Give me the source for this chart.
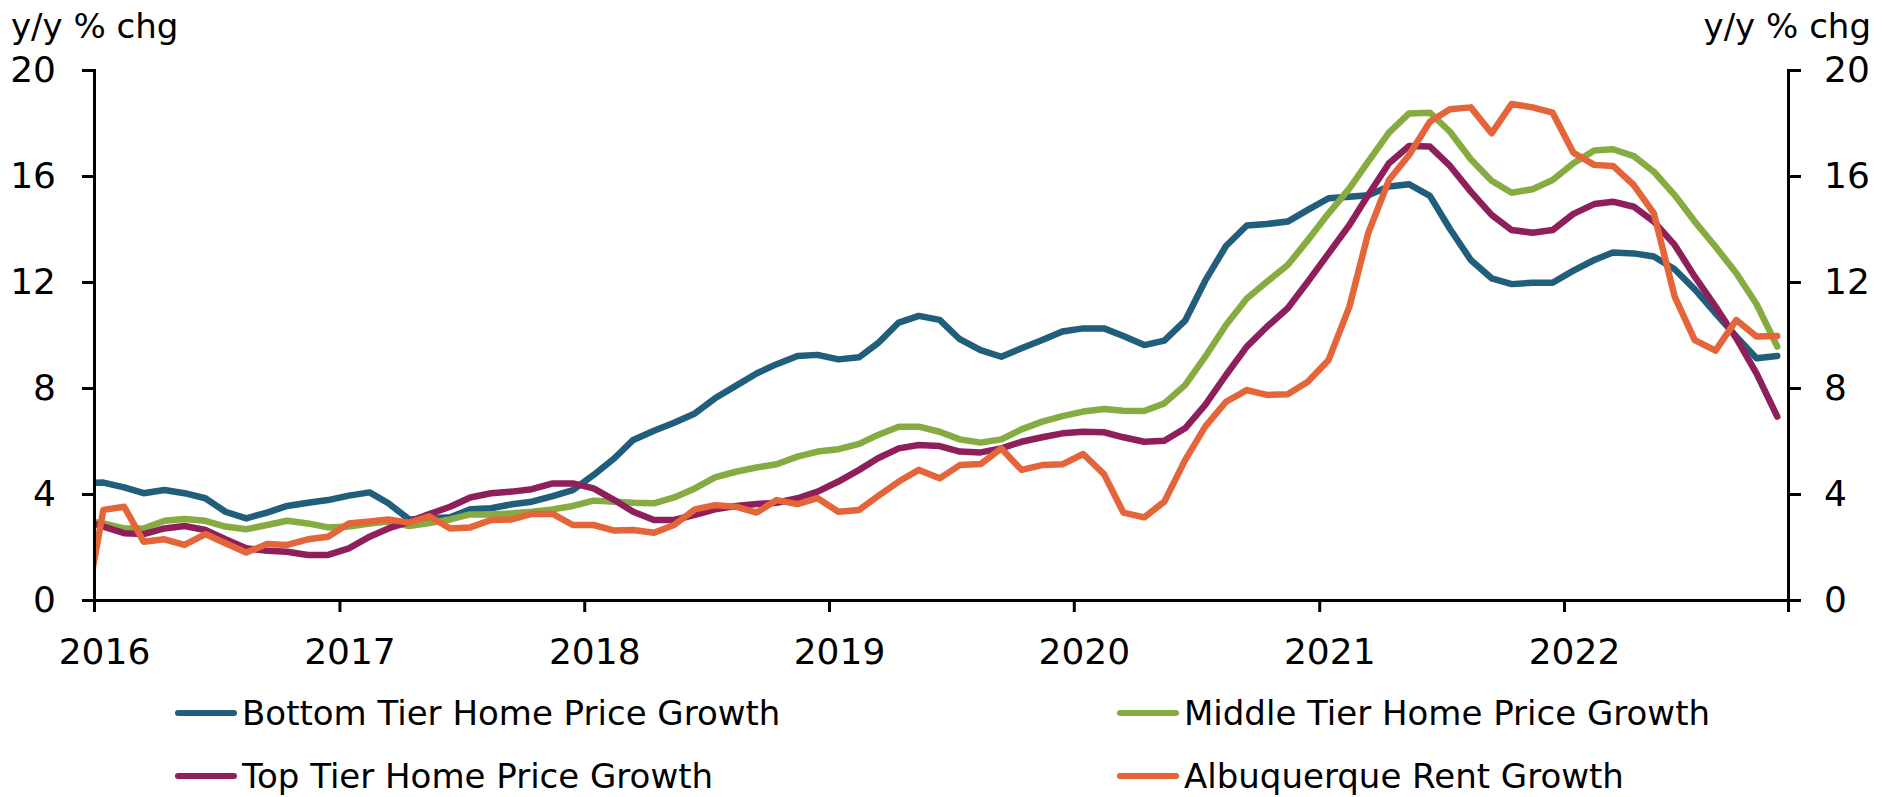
<!DOCTYPE html>
<html>
<head>
<meta charset="utf-8">
<script src="https://cdn.jsdelivr.net/npm/d3@7"></script>
<style>
  body { margin: 0; background: #fff; }
  text { font-family: "DejaVu Sans", sans-serif; fill: #000; }
</style>
</head>
<body>
<div class="chart"></div>
<script>
// monthly y/y % change, Dec 2015 .. Nov 2022 (first month sits left of the axis and is clipped)
var bottomTier = [4.42, 4.43, 4.25, 4.03, 4.15, 4.03, 3.84, 3.33, 3.08, 3.30, 3.55, 3.67, 3.77,
  3.94, 4.06, 3.65, 3.04, 3.08, 3.12, 3.42, 3.46, 3.61, 3.71, 3.92, 4.15,
  4.72, 5.35, 6.04, 6.39, 6.69, 7.04, 7.61, 8.08, 8.55, 8.90, 9.21, 9.25,
  9.08, 9.16, 9.69, 10.47, 10.72, 10.57, 9.84, 9.43, 9.18, 9.50, 9.81, 10.13,
  10.25, 10.25, 9.96, 9.62, 9.79, 10.54, 12.05, 13.36, 14.13, 14.19, 14.28, 14.72,
  15.16, 15.22, 15.27, 15.60, 15.69, 15.25, 14.00, 12.83, 12.14, 11.92, 11.97, 11.97,
  12.43, 12.83, 13.11, 13.08, 12.96, 12.48, 11.72, 10.82, 9.94, 9.12, 9.21];

var middleTier = [3.00, 2.89, 2.70, 2.70, 2.99, 3.06, 2.99, 2.77, 2.67, 2.83, 2.99, 2.89, 2.74,
  2.77, 2.89, 2.96, 2.79, 2.90, 3.04, 3.23, 3.23, 3.27, 3.33, 3.42, 3.55,
  3.75, 3.71, 3.67, 3.65, 3.87, 4.21, 4.63, 4.84, 5.00, 5.12, 5.41, 5.60,
  5.69, 5.89, 6.23, 6.54, 6.54, 6.35, 6.06, 5.94, 6.06, 6.44, 6.73, 6.94,
  7.11, 7.21, 7.14, 7.13, 7.42, 8.11, 9.18, 10.38, 11.38, 12.01, 12.64, 13.58,
  14.59, 15.53, 16.54, 17.64, 18.36, 18.39, 17.67, 16.63, 15.82, 15.37, 15.50, 15.85,
  16.48, 16.96, 17.01, 16.75, 16.16, 15.28, 14.28, 13.33, 12.33, 11.17, 9.56];

var topTier = [3.00, 2.77, 2.52, 2.49, 2.70, 2.79, 2.64, 2.29, 1.95, 1.86, 1.82, 1.70, 1.70,
  1.95, 2.39, 2.70, 2.96, 3.24, 3.52, 3.87, 4.03, 4.09, 4.18, 4.40, 4.40,
  4.21, 3.77, 3.33, 3.02, 3.02, 3.21, 3.42, 3.55, 3.62, 3.67, 3.84, 4.09,
  4.47, 4.91, 5.35, 5.72, 5.85, 5.81, 5.60, 5.57, 5.72, 5.97, 6.14, 6.29,
  6.35, 6.33, 6.14, 5.97, 6.01, 6.48, 7.36, 8.49, 9.56, 10.31, 11.01, 12.01,
  13.08, 14.15, 15.28, 16.48, 17.13, 17.11, 16.38, 15.41, 14.53, 13.96, 13.86, 13.96,
  14.57, 14.94, 15.03, 14.84, 14.28, 13.40, 12.20, 11.07, 9.87, 8.55, 6.92];

var rentGrowth = [-0.90, 3.40, 3.52, 2.20, 2.29, 2.08, 2.49, 2.14, 1.79, 2.11, 2.08, 2.29, 2.39,
  2.89, 2.96, 3.04, 2.92, 3.16, 2.70, 2.74, 3.02, 3.04, 3.25, 3.25, 2.83,
  2.83, 2.62, 2.64, 2.54, 2.83, 3.42, 3.58, 3.52, 3.30, 3.77, 3.62, 3.84,
  3.33, 3.40, 3.92, 4.47, 4.91, 4.59, 5.09, 5.13, 5.72, 4.91, 5.09, 5.12,
  5.51, 4.75, 3.30, 3.12, 3.71, 5.28, 6.54, 7.48, 7.92, 7.74, 7.76, 8.24,
  9.06, 11.07, 13.84, 15.85, 16.79, 18.05, 18.52, 18.59, 17.61, 18.72, 18.59, 18.39,
  16.88, 16.42, 16.38, 15.66, 14.59, 11.45, 9.81, 9.41, 10.57, 9.94, 9.96];

var seriesNames = [
  "Bottom Tier Home Price Growth",
  "Middle Tier Home Price Growth",
  "Top Tier Home Price Growth",
  "Albuquerque Rent Growth"
];
var seriesColors = ["#215e7c", "#86ac41", "#8e1f5b", "#e4653a"];
var seriesValues = [bottomTier, middleTier, topTier, rentGrowth];

var yTicks = [0, 4, 8, 12, 16, 20];
var yearTicks = [2016, 2017, 2018, 2019, 2020, 2021, 2022];
var axisTitle = "y/y % chg";

// each value is dated mid-month
var months = d3.timeMonth
  .range(new Date(2015, 11, 1), new Date(2022, 11, 1))
  .map(d => d3.timeDay.offset(d, 14));

var margin = { top: 70, right: 106, bottom: 197, left: 94 };
var fullWidth = 1894;
var fullHeight = 797;
var width = fullWidth - margin.left - margin.right;
var height = fullHeight - margin.top - margin.bottom;

var svg = d3
  .select(".chart")
  .append("svg")
  .attr("width", fullWidth)
  .attr("height", fullHeight);

var g = svg
  .append("g")
  .attr("transform", `translate(${margin.left}, ${margin.top})`);

var xScale = d3
  .scaleTime()
  .domain([new Date(2016, 0, 1), new Date(2022, 11, 1)])
  .range([0, width]);

var yScale = d3
  .scaleLinear()
  .domain([0, 20])
  .range([height, 0]);

g.append("clipPath")
  .attr("id", "plot-clip")
  .append("rect")
  .attr("x", 0)
  .attr("y", -10)
  .attr("width", width + 10)
  .attr("height", height + 10);

// lines
var line = d3
  .line()
  .x((d, i) => xScale(months[i]))
  .y(d => yScale(d));

g.append("g")
  .attr("clip-path", "url(#plot-clip)")
  .selectAll("path")
  .data(seriesValues)
  .join("path")
  .attr("d", d => line(d))
  .attr("fill", "none")
  .attr("stroke", (d, i) => seriesColors[i])
  .attr("stroke-width", 6.5)
  .attr("stroke-linejoin", "round")
  .attr("stroke-linecap", "round");

// axes
var yAxisLeft = d3
  .axisLeft(yScale)
  .tickValues(yTicks)
  .tickSize(12)
  .tickPadding(26);

var yAxisRight = d3
  .axisRight(yScale)
  .tickValues(yTicks)
  .tickSize(13)
  .tickPadding(23);

var xAxis = d3
  .axisBottom(xScale)
  .tickValues(yearTicks.map(y => new Date(y, 0, 1)))
  .tickFormat(d3.timeFormat("%Y"))
  .tickSize(12)
  .tickPadding(26);

g.append("g")
  .attr("class", "axis")
  .attr("transform", `translate(0, ${height})`)
  .call(xAxis)
  .call(a => a.selectAll("text").attr("dx", 10).style("font-size", "36px"));

g.append("g")
  .attr("class", "axis")
  .call(yAxisLeft)
  .call(a => a.selectAll("text").style("font-size", "36px"));

g.append("g")
  .attr("class", "axis")
  .attr("transform", `translate(${width}, 0)`)
  .call(yAxisRight)
  .call(a => a.selectAll("text").style("font-size", "36px"));

g.selectAll(".axis path, .axis line")
  .attr("stroke", "#000")
  .attr("stroke-width", 3);
g.selectAll(".axis").attr("font-family", null);

// axis titles
svg.append("text")
  .attr("x", 11)
  .attr("y", 38)
  .style("font-size", "34px")
  .text(axisTitle);

svg.append("text")
  .attr("x", 1871)
  .attr("y", 38)
  .attr("text-anchor", "end")
  .style("font-size", "34px")
  .text(axisTitle);

// legend
var legendPos = [
  { x: 178, y: 713 },
  { x: 1120, y: 713 },
  { x: 178, y: 776 },
  { x: 1120, y: 776 }
];

var legend = svg
  .append("g")
  .selectAll("g")
  .data(seriesNames)
  .join("g")
  .attr("transform", (d, i) => `translate(${legendPos[i].x}, ${legendPos[i].y})`);

legend
  .append("line")
  .attr("x1", 0)
  .attr("x2", 56)
  .attr("stroke", (d, i) => seriesColors[i])
  .attr("stroke-width", 6)
  .attr("stroke-linecap", "round");

legend
  .append("text")
  .attr("x", 64)
  .attr("y", 12)
  .style("font-size", "34px")
  .text(d => d);
</script>
</body>
</html>
